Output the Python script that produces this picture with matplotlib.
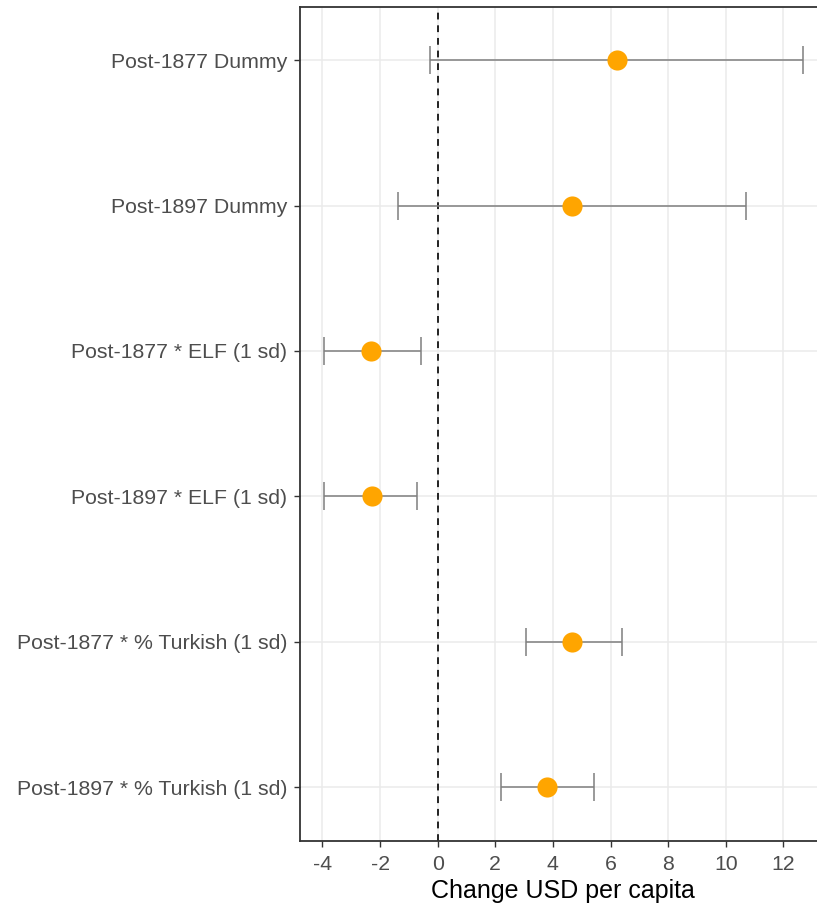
import matplotlib
matplotlib.use("Agg")
import matplotlib.pyplot as plt
import numpy as np

plt.rcParams["font.family"] = ["Liberation Sans", "DejaVu Sans"]

# data, top to bottom as shown in the chart
terms = [
    "Post-1877 Dummy",
    "Post-1897 Dummy",
    "Post-1877 * ELF (1 sd)",
    "Post-1897 * ELF (1 sd)",
    "Post-1877 * % Turkish (1 sd)",
    "Post-1897 * % Turkish (1 sd)",
]
estimate = [6.21, 4.67, -2.31, -2.28, 4.68, 3.79]
ci_low = [-0.28, -1.37, -3.93, -3.93, 3.05, 2.20]
ci_high = [12.69, 10.71, -0.58, -0.72, 6.40, 5.42]
xticks = [-4, -2, 0, 2, 4, 6, 8, 10, 12]

W, H = 817, 905
fig = plt.figure(figsize=(W / 100, H / 100), dpi=100)
# panel runs past the right edge of the image, as in the reference
ax = fig.add_axes([300 / W, 64 / H, 530 / W, 834 / H])

ypos = np.arange(len(terms))[::-1] + 1
est = np.array(estimate)
lo = est - np.array(ci_low)
hi = np.array(ci_high) - est

ax.axvline(0, color="#222222", lw=1.4, ls=(0, (3.5, 3)), zorder=2)
ax.errorbar(est, ypos, xerr=[lo, hi], fmt="none", ecolor="#7f7f7f",
            elinewidth=1.1, capsize=10, capthick=1.1, zorder=3)
ax.plot(est, ypos, "o", color="#ffa500", markersize=14.5, mec="none", zorder=4)

ax.set_xlim(-4.78, 13.62)
ax.set_ylim(0.63, 6.365)
ax.set_xticks(xticks)
ax.set_xticklabels([str(t) for t in xticks])
ax.set_yticks(ypos)
ax.set_yticklabels(terms)
ax.grid(True, color="#ebebeb", lw=1.1, zorder=0)
ax.set_axisbelow(True)

for sp in ax.spines.values():
    sp.set_color("#333333")
    sp.set_linewidth(1.3)

ax.tick_params(axis="both", length=4, width=1.0, color="#333333",
               labelcolor="#4d4d4d", labelsize=15.3)
ax.tick_params(axis="y", pad=5)
ax.tick_params(axis="x", pad=6)
fig.text(563 / W, 7 / H, "Change USD per capita", fontsize=18,
         color="black", ha="center", va="baseline")

fig.savefig("out.png", dpi=100, facecolor="white")
